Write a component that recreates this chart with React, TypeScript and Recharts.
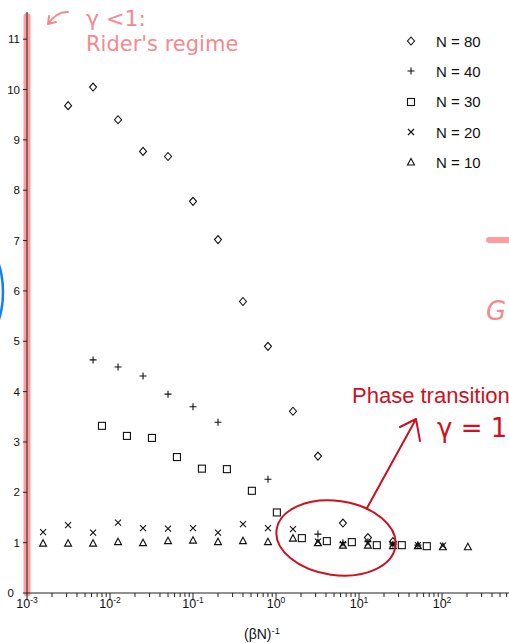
import React from "react";
import { ScatterChart, Scatter, XAxis, YAxis, ReferenceLine, Legend } from "recharts";

// N = 80 (diamonds)
const n80X = [0.003125, 0.00625, 0.0125, 0.025, 0.05, 0.1, 0.2, 0.4, 0.8, 1.6, 3.2, 6.4, 12.8, 25.6];
const n80Y = [9.68, 10.05, 9.4, 8.77, 8.67, 7.78, 7.02, 5.79, 4.9, 3.61, 2.72, 1.39, 1.1, 1.02];

// N = 40 (plus)
const n40X = [0.00625, 0.0125, 0.025, 0.05, 0.1, 0.2, 0.8, 3.2, 6.4, 12.8, 25.6, 51.2];
const n40Y = [4.63, 4.49, 4.31, 3.95, 3.7, 3.39, 2.26, 1.17, 1.0, 1.02, 0.97, 0.95];

// N = 30 (squares)
const n30X = [0.008, 0.016, 0.032, 0.064, 0.128, 0.256, 0.512, 1.024, 2.048, 4.096, 8.192, 16.384, 32.768, 65.536];
const n30Y = [3.32, 3.12, 3.08, 2.7, 2.47, 2.46, 2.03, 1.6, 1.09, 1.03, 1.01, 0.95, 0.95, 0.93];

// N = 20 (crosses)
const n20X = [0.0015625, 0.003125, 0.00625, 0.0125, 0.025, 0.05, 0.1, 0.2, 0.4, 0.8, 1.6, 3.2, 6.4, 12.8, 25.6, 51.2, 102.4];
const n20Y = [1.21, 1.35, 1.2, 1.4, 1.29, 1.28, 1.29, 1.2, 1.37, 1.29, 1.27, 1.02, 0.97, 0.99, 0.97, 0.95, 0.94];

// N = 10 (triangles)
const n10X = [0.0015625, 0.003125, 0.00625, 0.0125, 0.025, 0.05, 0.1, 0.2, 0.4, 0.8, 1.6, 3.2, 6.4, 12.8, 25.6, 51.2, 102.4, 204.8];
const n10Y = [0.99, 0.99, 0.99, 1.02, 1.0, 1.04, 1.05, 1.02, 1.04, 1.02, 1.09, 1.0, 0.95, 0.95, 0.94, 0.94, 0.92, 0.92];

const yTicks = [0, 1, 2, 3, 4, 5, 6, 7, 8, 9, 10, 11];
const decades = [0.001, 0.01, 0.1, 1, 10, 100];
const decadeExp = ["-3", "-2", "-1", "0", "1", "2"];
const minorSteps = [2, 3, 4, 5, 6, 7, 8, 9];
const xMax = 641;
const xTicks = decades
  .flatMap((d) => [d, ...minorSteps.map((m) => d * m)])
  .filter((v) => v <= xMax);

const toPoints = (xs: number[], ys: number[]) => xs.map((x, i) => ({ x, y: ys[i] }));

const INK = "#111";
const FONT = "'Liberation Sans', Arial, sans-serif";
const HAND = "'DejaVu Sans', sans-serif";

const Diamond = ({ cx, cy }: any) => (
  <path d={`M${cx},${cy - 4} L${cx + 3.5},${cy} L${cx},${cy + 4} L${cx - 3.5},${cy} Z`} fill="none" stroke={INK} strokeWidth={1.1} />
);
const Plus = ({ cx, cy }: any) => (
  <path d={`M${cx - 3.5},${cy} H${cx + 3.5} M${cx},${cy - 3.5} V${cy + 3.5}`} stroke={INK} strokeWidth={1.1} />
);
const Square = ({ cx, cy }: any) => (
  <rect x={cx - 3.5} y={cy - 3.5} width={7} height={7} fill="none" stroke={INK} strokeWidth={1.1} />
);
const Cross = ({ cx, cy }: any) => (
  <path d={`M${cx - 3},${cy - 3} L${cx + 3},${cy + 3} M${cx - 3},${cy + 3} L${cx + 3},${cy - 3}`} stroke={INK} strokeWidth={1.1} />
);
const Triangle = ({ cx, cy }: any) => (
  <path d={`M${cx},${cy - 3.5} L${cx + 3.5},${cy + 3} L${cx - 3.5},${cy + 3} Z`} fill="none" stroke={INK} strokeWidth={1.1} />
);

const series = [
  { name: "N = 80", data: toPoints(n80X, n80Y), shape: Diamond },
  { name: "N = 40", data: toPoints(n40X, n40Y), shape: Plus },
  { name: "N = 30", data: toPoints(n30X, n30Y), shape: Square },
  { name: "N = 20", data: toPoints(n20X, n20Y), shape: Cross },
  { name: "N = 10", data: toPoints(n10X, n10Y), shape: Triangle },
];

const XTick = (props: any) => {
  const { x, y, payload } = props;
  const idx = decades.indexOf(payload.value);
  const major = idx >= 0;
  return (
    <g>
      <line x1={x} x2={x} y1={y} y2={y + (major ? 6 : 4)} stroke="#222" />
      {major && (
        <text x={x} y={y + 15} textAnchor="middle" fontSize={12.5} fill={INK} fontFamily={FONT}>
          <tspan>10</tspan>
          <tspan dy={-5} fontSize={8.5}>{decadeExp[idx]}</tspan>
        </text>
      )}
    </g>
  );
};

const YTick = (props: any) => {
  const { x, y, payload } = props;
  // the zero label sits a little further left, clear of the 10^-3 label
  const shift = payload.value === 0 ? 6 : 0;
  return (
    <text x={x - shift} y={y} dy="0.355em" textAnchor="end" fontSize={11.5} fill={INK} fontFamily={FONT}>
      {payload.value}
    </text>
  );
};

const XTitle = (props: any) => {
  const { viewBox } = props;
  return (
    <text x={262} y={viewBox.y + 46} textAnchor="middle" fontSize={14} fill={INK} fontFamily={FONT}>
      <tspan>(βN)</tspan>
      <tspan dy={-5} fontSize={9.5}>-1</tspan>
    </text>
  );
};

const KeyBox = () => (
  <div style={{ fontFamily: FONT, fontSize: 15, color: INK }}>
    {series.map((s) => {
      const Shape = s.shape;
      return (
        <div key={s.name} style={{ height: 30.3, display: "flex", alignItems: "center" }}>
          <svg width={26} height={20} style={{ marginRight: 12 }}>
            <Shape cx={13} cy={10} />
          </svg>
          <span>{s.name}</span>
        </div>
      );
    })}
  </div>
);

export default function App() {
  return (
    <div style={{ position: "absolute", left: 0, top: 0, width: 509, height: 643, overflow: "hidden", background: "#fff" }}>
      <ScatterChart width={509} height={643} margin={{ top: 12, right: 0, bottom: 0, left: 0 }}>
        <XAxis
          type="number"
          dataKey="x"
          scale="log"
          domain={[0.001, xMax]}
          allowDataOverflow
          ticks={xTicks}
          interval={0}
          tick={<XTick />}
          tickLine={false}
          tickSize={0}
          tickMargin={0}
          height={50}
          stroke="#222"
          label={<XTitle />}
        />
        <YAxis
          type="number"
          dataKey="y"
          domain={[0, 11.54]}
          ticks={yTicks}
          interval={0}
          width={27}
          tickSize={4}
          tickMargin={3}
          stroke="#222"
          tick={<YTick />}
        />
        <ReferenceLine
          segment={[{ x: 0.001, y: 0 }, { x: 0.001, y: 11.45 }]}
          stroke="#FF9C9C"
          strokeWidth={7}
          strokeLinecap="round"
        />
        {series.map((s) => (
          <Scatter key={s.name} name={s.name} data={s.data} shape={s.shape} isAnimationActive={false} />
        ))}
        <Legend
          layout="horizontal"
          verticalAlign="middle"
          align="center"
          content={() => <KeyBox />}
          wrapperStyle={{ top: 26, left: 398, right: "auto", width: 111, height: "auto" }}
        />
      </ScatterChart>
      <svg width={509} height={643} style={{ position: "absolute", left: 0, top: 0, pointerEvents: "none" }}>
        {/* pink note, top left */}
        <path d="M68,12 Q57,11 48,24 M48,24 L49,16 M48,24 L56,22" fill="none" stroke="#F5898C" strokeWidth={2} strokeLinecap="round" />
        <text x={86} y={26} fontSize={22} fill="#F5898C" fontFamily={HAND}>γ &lt;1:</text>
        <text x={86} y={51} fontSize={21} fill="#F5898C" fontFamily={HAND}>Rider's regime</text>
        {/* blue arc at the left edge */}
        <ellipse cx={-32} cy={292} rx={35} ry={58} fill="none" stroke="#1A7CF5" strokeWidth={2.5} />
        {/* pink marks at the right edge */}
        <line x1={489} y1={240} x2={520} y2={240} stroke="#FF9C9C" strokeWidth={6} strokeLinecap="round" />
        <text x={486} y={320} fontSize={26} fill="#F5898C" fontFamily={HAND} fontStyle="italic">G</text>
        {/* phase transition note */}
        <ellipse cx={336} cy={538} rx={60} ry={37} transform="rotate(8 336 538)" fill="none" stroke="#CC1020" strokeWidth={2} />
        <path d="M367,508 L416,419 M416,419 L400,427 M416,419 L420,441" fill="none" stroke="#CC1020" strokeWidth={2} strokeLinecap="round" />
        <text x={352} y={403} fontSize={22} fill="#D0101E" fontFamily={FONT}>Phase transition</text>
        <text x={437} y={437} fontSize={26} fill="#D0101E" fontFamily={HAND}>γ = 1</text>
      </svg>
    </div>
  );
}
